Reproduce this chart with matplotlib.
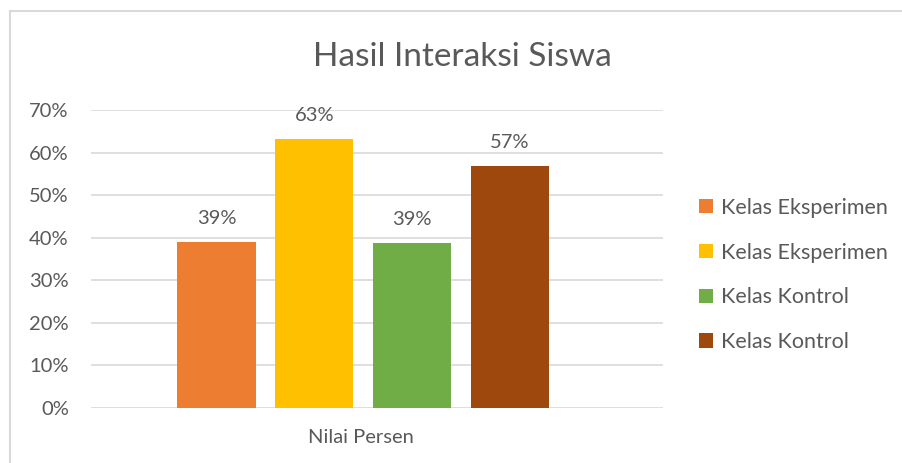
import matplotlib.pyplot as plt
from matplotlib.lines import Line2D

plt.rcParams['font.family'] = ['Lato', 'DejaVu Sans']

labels = ['Kelas Eksperimen', 'Kelas Eksperimen', 'Kelas Kontrol', 'Kelas Kontrol']
values = [0.39, 0.632, 0.388, 0.568]
value_text = ['39%', '63%', '39%', '57%']
colors = ['#ED7D31', '#FFC000', '#70AD47', '#9E480E']
category = 'Nilai Persen'
yticks = [0, 0.1, 0.2, 0.3, 0.4, 0.5, 0.6, 0.7]

W, H = 902, 463
fig = plt.figure(figsize=(W / 100, H / 100), dpi=100)
ax = fig.add_axes([91 / W, 1 - 408 / H, (663 - 91) / W, (408 - 110) / H])

txt = '#595959'
grid = '#D9D9D9'

x = list(range(len(values)))
bars = ax.bar(x, values, width=0.8, color=colors, label=labels, zorder=3)
for xi, v, t in zip(x, values, value_text):
    ax.annotate(t, (xi, v), xytext=(0, 11), textcoords='offset points',
                ha='center', va='bottom', fontsize=14.5, color=txt)

ax.set_xlim(-1.283, 4.565)
ax.set_ylim(0, 0.7)
ax.set_yticks(yticks)
ax.set_yticklabels([f'{int(round(t * 100))}%' for t in yticks], fontsize=14.5, color=txt)
ax.set_xticks([1.48])
ax.set_xticklabels([category], fontsize=14.5, color=txt)
ax.tick_params(axis='both', length=0)
ax.tick_params(axis='y', pad=16)
ax.tick_params(axis='x', pad=15)
ax.yaxis.grid(True, color=grid, linewidth=1.2, zorder=0)
for s in ax.spines.values():
    s.set_visible(False)

fig.text(462 / W, 1 - 57 / H, 'Hasil Interaksi Siswa', ha='center', va='center',
         fontsize=24, color=txt)

fig.legend(handles=bars, labels=labels, loc='center left',
           bbox_to_anchor=(680 / W, 1 - 275 / H), frameon=False,
           fontsize=15.5, labelcolor=txt, handlelength=0.65, handleheight=0.65,
           handletextpad=0.35, labelspacing=1.15)

# chart frame
fig.add_artist(Line2D([10 / W, 10 / W], [0, 1 - 11 / H], color=grid, linewidth=1.5))
fig.add_artist(Line2D([10 / W, 1], [1 - 11 / H, 1 - 11 / H], color=grid, linewidth=1.5))

fig.savefig('out.png', dpi=100, facecolor='white')
